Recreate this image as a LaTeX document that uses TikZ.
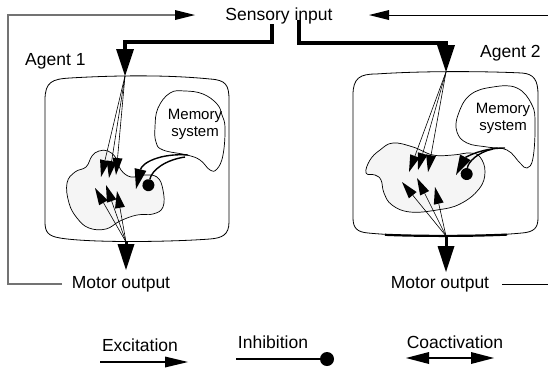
\documentclass[tikz,border=0pt]{standalone}
\usepackage{fontspec}
\setmainfont{Liberation Sans}
\usetikzlibrary{arrows.meta}

\begin{document}
\begin{tikzpicture}[x=1pt,y=-1pt]
\tikzstyle{txt}=[inner sep=0pt, font=\fontsize{17.5}{20}\selectfont]
\tikzstyle{memtxt}=[inner sep=0pt, align=center, font=\fontsize{15}{17}\selectfont]
\tikzstyle{feed}=[line width=1pt, -{Triangle[length=20pt,width=10pt,line width=0pt,color=black]}]
\tikzstyle{sense}=[line width=4.5pt, -{Triangle[length=27pt,width=18pt,line width=0pt]}]
\tikzstyle{motor}=[line width=3pt, -{Triangle[length=26pt,width=17pt,line width=0pt]}]
\tikzstyle{exc}=[line width=0.6pt, -{Triangle[length=17pt,width=10pt,line width=0pt]}]
\tikzstyle{memexc}=[line width=1.4pt, -{Triangle[length=20pt,width=12pt,line width=0pt]}]
\tikzstyle{meminh}=[line width=1.4pt, -{Circle[length=12pt,line width=0pt]}]
\tikzstyle{agent}=[line width=0.8pt]
\tikzstyle{region}=[line width=0.7pt]
\tikzstyle{brain}=[line width=0.7pt, fill=black!4]
\useasboundingbox (0,0) rectangle (548,370);

% texts
\node[txt, anchor=base] (sens) at (279,20.5) {Sensory input};
\node[txt, anchor=base west] (ag1) at (25,65) {Agent 1};
\node[txt, anchor=base west] (ag2) at (480,57) {Agent 2};
\node[txt, anchor=base] (mo1) at (121,288) {Motor output};
\node[txt, anchor=base] (mo2) at (440,288) {Motor output};

% agent boxes
\draw[agent] (45,100) .. controls (45,82) and (52,79) .. (70,78)
  .. controls (120,75) and (170,75) .. (210,79)
  .. controls (226,80) and (229,85) .. (229,100) -- (229,222)
  .. controls (229,235) and (222,238) .. (210,239)
  .. controls (170,242) and (90,243) .. (60,238)
  .. controls (48,236) and (45,232) .. (45,222) -- cycle;
\draw[agent] (353,95) .. controls (353,78) and (360,74) .. (376,74)
  .. controls (420,71) and (480,71) .. (522,73)
  .. controls (534,74) and (538,80) .. (538,95) -- (538,218)
  .. controls (538,228) and (534,232) .. (522,233)
  .. controls (480,237) and (410,237) .. (368,233)
  .. controls (357,232) and (353,228) .. (353,218) -- cycle;
\draw[line width=2.2pt] (385,234.8) .. controls (420,236.3) and (470,236.3) .. (507,234.6);

% brain areas
\draw[brain] plot[smooth cycle, tension=0.7] coordinates {(92,156) (99,151) (108,151)
  (116,158) (121,170) (131,177) (143,175) (157,177) (163,190) (163,207) (153,214)
  (137,215) (120,221) (106,229) (89,228) (77,218) (69,203) (67,183) (75,172) (86,167)};
\draw[brain] plot[smooth cycle, tension=0.7] coordinates {(380,150) (370,160) (366,173)
  (375,175) (381,180) (384,193) (392,205) (410,212) (437,210) (460,204) (479,189)
  (485,172) (480,157) (470,153) (453,155) (433,155) (413,147) (393,143)};

% memory systems
\draw[region] plot[smooth cycle, tension=0.7] coordinates {(170,93) (185,91) (203,94)
  (217,104) (222,115) (225,128) (223,155) (217,169) (210,170) (200,160) (187,155)
  (163,150) (156,142) (155,127) (158,108)};
\draw[region] plot[smooth cycle, tension=0.7] coordinates {(493,87) (517,88) (532,105)
  (535,125) (533,158) (527,168) (520,163) (507,150) (487,147) (467,143) (457,132)
  (458,115) (470,95)};
\node[memtxt] (mem1) at (195,124) {Memory\\system};
\node[memtxt] (mem2) at (503,118) {Memory\\system};

% points where the pathways enter and leave
\coordinate (sensL) at (272,24);
\coordinate (sensR) at (299,20);
\coordinate (in1) at (125,76);
\coordinate (in2) at (446,72);
\coordinate (out1) at (126,242);
\coordinate (out2) at (446,236);

% sensory input
\draw[sense] (sensL) |- (125,42) -- (in1);
\draw[sense] (sensR) |- (446,43) -- (in2);

% feedback loops
\coordinate (fb1) at (62,284);
\coordinate (fb2) at (502,284);
\draw[feed, black!55, line width=1.3pt] (fb1) -| (8,15) -- (195,15);
\draw[feed] (fb2) -- (550,284) -- (550,15) -- (369,15);

% agent 1 pathways
\path (in1) edge[exc] (101,177)
            edge[exc] (109,178)
            edge[exc] (116,175);
\path (out1) edge[exc] (95,188)
             edge[exc] (106,185)
             edge[exc] (117,191);
\draw[memexc] (188,155) .. controls (160,153) and (142,163) .. (136,189);
\draw[meminh] (185,157) .. controls (165,160) and (152,170) .. (147,191);
\draw[motor] (out1) -- (126,270);

% agent 2 pathways
\path (in2) edge[exc] (409,172)
            edge[exc] (418,170)
            edge[exc] (428,172);
\path (out2) edge[exc] (402,182)
             edge[exc] (417,178)
             edge[exc] (435,187);
\draw[memexc] (505,148) .. controls (480,148) and (465,158) .. (456,175);
\draw[meminh] (493,149) .. controls (478,152) and (468,162) .. (466,180);
\draw[motor] (out2) -- (446,272);

% legend
\node[txt, anchor=base] (lgexc) at (140,351) {Excitation};
\node[txt, anchor=base] (lginh) at (273,348) {Inhibition};
\node[txt, anchor=base] (lgcoa) at (455,348) {Coactivation};
\draw[line width=1.3pt, -{Triangle[length=23pt,width=11pt,line width=0pt]}] (100,362) -- (188,362);
\draw[line width=1.5pt, -{Circle[length=14pt,line width=0pt]}] (236,359) -- (334,359);
\draw[line width=1.5pt, {Triangle[length=23pt,width=12pt,line width=0pt]}-{Triangle[length=23pt,width=12pt,line width=0pt]}] (406,358) -- (494,358);
\end{tikzpicture}
\end{document}
